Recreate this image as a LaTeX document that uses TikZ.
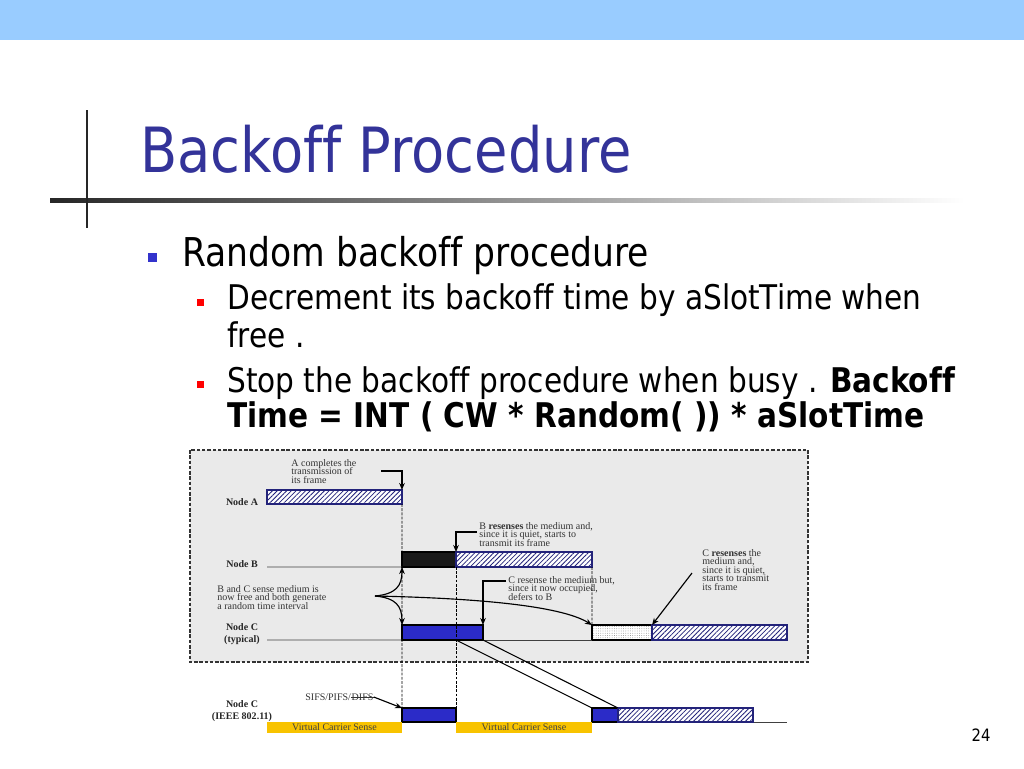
\documentclass[tikz,border=0pt]{standalone}
\usepackage{fontspec}
\setmainfont{DejaVu Sans}[FakeStretch=0.87, Ligatures=NoCommon]
\newfontfamily\timesfont{Liberation Serif}
\newcommand\notefont{\timesfont\fontsize{5.7}{4.85}\selectfont\lineskiplimit=-5pt\relax}
\usetikzlibrary{arrows.meta,patterns.meta}
\definecolor{bandblue}{HTML}{99CCFF}
\definecolor{titleblue}{HTML}{333399}
\definecolor{bulletblue}{HTML}{3333CC}
\definecolor{boxgrey}{HTML}{EAEAEA}
\definecolor{frameblue}{HTML}{2B2BC8}
\definecolor{hatchblue}{HTML}{23237A}
\definecolor{vcsyellow}{HTML}{F8C300}
\tikzset{
  bar/.style={rectangle, inner sep=0pt, outer sep=0pt, anchor=north west, line width=0.6pt},
  hatchbar/.style={bar, draw=hatchblue, preaction={fill=white},
    pattern={Lines[angle=45,distance=1.9pt,line width=0.45pt]}, pattern color=hatchblue},
  busybar/.style={bar, draw=black, fill=frameblue},
  dotbar/.style={bar, draw=black, preaction={fill=white},
    pattern={Dots[distance=1.3pt,radius=0.22pt]}, pattern color=black!55},
  vcsbar/.style={bar, fill=vcsyellow, text=black!75,
    font=\timesfont\fontsize{5.7}{6}\selectfont},
  note/.style={inner sep=0pt, anchor=north west, align=left, text=black!80, font=\notefont},
  nodename/.style={inner sep=0pt, align=center, text=black!85,
    font=\timesfont\bfseries\fontsize{5.7}{6.6}\selectfont},
  timeline/.style={draw=black!75, line width=0.5pt},
  guide/.style={dash pattern=on 1.6pt off 0.8pt, line width=0.5pt},
  callout/.style={-{Stealth[length=4pt,width=3.2pt]}, line width=0.65pt},
  slidetext/.style={inner sep=0pt, anchor=base west}
}
\begin{document}
\begin{tikzpicture}[x=0.02cm, y=-0.02cm]
  \useasboundingbox (0,0) rectangle (1024,768);
  \fill[bandblue] (0,0) rectangle (1024,40);
  \shade[left color=black!85, right color=white] (50,198) rectangle (965,202);
  \draw[black!85, line width=1.6pt] (87,110) -- (87,228);
  \node[slidetext, text=titleblue, font=\fontsize{35.5}{40}\selectfont] (title) at (140,172) {Backoff Procedure};
  \node[fill=bulletblue, minimum size=0.18cm, inner sep=0pt] (dot1) at (152,257) {};
  \node[slidetext, font=\fontsize{22.6}{26}\selectfont] (item1) at (182,266) {Random backoff procedure};
  \node[fill=red, minimum size=0.14cm, inner sep=0pt] (dot2) at (200,302) {};
  \node[slidetext, font=\fontsize{19.35}{22}\selectfont] (item2a) at (227,309) {Decrement its backoff time by aSlotTime when};
  \node[slidetext, font=\fontsize{19.35}{22}\selectfont] (item2b) at (227,347) {free .};
  \node[fill=red, minimum size=0.14cm, inner sep=0pt] (dot3) at (200,384) {};
  \node[slidetext, font=\fontsize{19.35}{22}\selectfont] (item3a) at (227,392) {Stop the backoff procedure when busy . \textbf{Backoff}};
  \node[slidetext, font=\fontsize{19.35}{22}\selectfont\bfseries] (item3b) at (227,427) {Time = INT ( CW * Random( )) * aSlotTime};
  \node[font=\fontsize{9.7}{11}\selectfont] (page) at (981,735) {24};

  \draw[fill=boxgrey, draw=black!80, dash pattern=on 2pt off 1pt, line width=0.7pt] (190,450) rectangle (808,662);

  \node[nodename] (nA) at (242,502) {Node A};
  \node[nodename] (nB) at (242,564) {Node B};
  \node[nodename] (nC) at (242,634) {Node C\\(typical)};
  \node[nodename] (nI) at (242,711) {Node C\\(IEEE 802.11)};

  \coordinate (lB) at (267,567);
  \coordinate (lC) at (267,640);
  \coordinate (lI) at (267,722);
  \coordinate (rI) at (787,722);
  \draw[timeline] (lI) -- (rI);

  \node[hatchbar, minimum width=2.7cm, minimum height=0.28cm] (barA) at (267,490) {};
  \node[bar, draw=black, fill=black!90, minimum width=1.08cm, minimum height=0.3cm] (busyB) at (402,552) {};
  \node[hatchbar, minimum width=2.72cm, minimum height=0.3cm] (barB) at (456,552) {};
  \node[busybar, minimum width=1.62cm, minimum height=0.3cm] (boC) at (402,625) {};
  \node[dotbar, minimum width=1.2cm, minimum height=0.3cm] (dotC) at (592,625) {};
  \node[hatchbar, minimum width=2.7cm, minimum height=0.3cm] (barC) at (652,625) {};
  \node[busybar, minimum width=1.08cm, minimum height=0.28cm] (boI1) at (402,708) {};
  \node[busybar, minimum width=0.52cm, minimum height=0.28cm] (boI2) at (592,708) {};
  \node[hatchbar, minimum width=2.7cm, minimum height=0.28cm] (barI) at (618,708) {};
  \node[vcsbar, minimum width=2.7cm, minimum height=0.22cm] (vcs1) at (267,722) {Virtual Carrier Sense};
  \node[vcsbar, minimum width=2.72cm, minimum height=0.22cm] (vcs2) at (456,722) {Virtual Carrier Sense};

  \node[note] (tA) at (291,459) {A completes the\\transmission of\\its frame};
  \node[note] (tB) at (479,522) {B \textbf{resenses} the medium and,\\since it is quiet, starts to\\transmit its frame};
  \node[note] (tBC) at (217,585) {B and C sense medium is\\now free and both generate\\a random time interval};
  \node[note] (tCd) at (508,576) {C resense the medium but,\\since it now occupied,\\defers to B};
  \node[note] (tCq) at (702,549) {C \textbf{resenses} the\\medium and,\\since it is quiet,\\starts to transmit\\ its frame};
  \node[note, anchor=west] (sifs) at (305,697) {SIFS/PIFS/};
  \node[note, anchor=west] (difs) at (sifs.east) {DIFS};
  \draw[black!80, line width=0.4pt] (difs.west) -- (difs.east);

  \coordinate (aFrom) at (381,471);
  \coordinate (bFrom) at (477,532);
  \coordinate (cFrom) at (506,581);
  \coordinate (qFrom) at (692,573);
  \coordinate (fork) at (375,596);

  \begin{scope}[line width=0.6pt]
    \draw[timeline] (lB) -- (busyB.south west);
    \draw[timeline] (lC) -- (boC.south west);
    \draw[timeline] (boC.south east) -- (dotC.south west);
    \draw[guide] (barA.south east) -- (boI1.north west);
    \draw[guide] (busyB.south east) -- (boI1.north east);
    \draw[guide] (barB.south east) -- (dotC.north west);
    \draw (busyB.east |- boC.south) -- (boI2.north west);
    \draw (boC.south east) -- (boI2.north east);
    \draw[callout] (aFrom) -| (barA.north east);
    \draw[callout] (bFrom) -| (barB.north west);
    \draw[callout] (cFrom) -| (boC.north east);
    \draw[callout] (qFrom) -- (barC.north west);
    \draw[callout] (fork) .. controls (396,594) and (402,586) .. (busyB.south west);
    \draw[callout] (fork) .. controls (396,598) and (402,606) .. (boC.north west);
    \draw[callout] (fork) .. controls (470,598) and (560,605) .. (dotC.north west);
    \draw[callout] (difs.east) -- (boI1.north west);
  \end{scope}
\end{tikzpicture}
\end{document}
